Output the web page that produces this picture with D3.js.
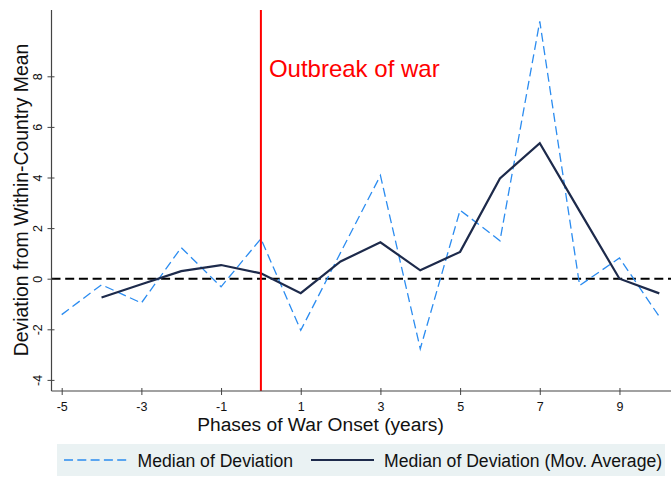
<!DOCTYPE html>
<html>
<head>
<meta charset="utf-8">
<script src="https://cdn.jsdelivr.net/npm/d3@7"></script>
<style>
  html, body { margin: 0; padding: 0; background: #fff; }
  svg { display: block; font-family: "Liberation Sans", Arial, sans-serif; }
</style>
</head>
<body>
<svg id="chart" width="671" height="477"></svg>
<script>
// ---- data ----
const years = [-5, -4, -3, -2, -1, 0, 1, 2, 3, 4, 5, 6, 7, 8, 9, 10];
const medianDev = [-1.42, -0.24, -0.96, 1.23, -0.32, 1.58, -2.04, 1.03, 4.08, -2.77, 2.71, 1.50, 10.17, -0.27, 0.82, -1.50];
const maYears = [-4, -3, -2, -1, 0, 1, 2, 3, 4, 5, 6, 7, 8, 9, 10];
const movAvg = [-0.74, -0.22, 0.30, 0.54, 0.21, -0.57, 0.68, 1.44, 0.33, 1.06, 3.96, 5.36, 2.67, 0.0, -0.58];
const xTicks = [-5, -3, -1, 1, 3, 5, 7, 9];
const yTicks = [-4, -2, 0, 2, 4, 6, 8];
const warOnset = 0;
const seriesNames = ["Median of Deviation", "Median of Deviation (Mov. Average)"];

const svg = d3.select("#chart");
const W = 671, H = 477;
svg.append("rect").attr("width", W).attr("height", H).attr("fill", "#fff");

const x = d3.scaleLinear().domain([-5, 10]).range([61.7, 659.3]);
const y = d3.scaleLinear().domain([-4, 8]).range([379.9, 76.3]);

const axisColor = "#444";
const axisLeftX = 51.5, axisTopY = 10, axisBottomY = 391;

// zero reference line
svg.append("line")
  .attr("x1", axisLeftX).attr("x2", W)
  .attr("y1", y(0)).attr("y2", y(0))
  .attr("stroke", "#000").attr("stroke-width", 2)
  .attr("stroke-dasharray", "9,4.7");

// series lines
const line = d3.line();
svg.append("path")
  .attr("d", line(years.map((d, i) => [x(d), y(medianDev[i])])))
  .attr("fill", "none").attr("stroke", "#2b8cf0").attr("stroke-width", 1.3)
  .attr("stroke-dasharray", "9,4.5");

svg.append("path")
  .attr("d", line(maYears.map((d, i) => [x(d), y(movAvg[i])])))
  .attr("fill", "none").attr("stroke", "#1d2a4b").attr("stroke-width", 2.2)
  .attr("stroke-linejoin", "miter");

// war onset line
svg.append("line")
  .attr("x1", x(warOnset)).attr("x2", x(warOnset))
  .attr("y1", axisTopY).attr("y2", axisBottomY)
  .attr("stroke", "#ff0000").attr("stroke-width", 2);
svg.append("text")
  .attr("x", x(warOnset) + 8).attr("y", 76.5)
  .attr("fill", "#ff0000").attr("font-size", 24)
  .text("Outbreak of war");

// axes
const gx = svg.append("g").attr("transform", `translate(0,${axisBottomY})`)
  .call(d3.axisBottom(x).tickValues(xTicks).tickSize(4).tickPadding(7)
    .tickFormat(d3.format("d")));
gx.select(".domain").remove();
gx.selectAll(".tick line").attr("y1", -3).attr("stroke", axisColor);
gx.selectAll(".tick text").attr("font-size", 12.5).attr("fill", "#111")
  .attr("font-family", "Liberation Sans, Arial, sans-serif")
  .text(d => d < 0 ? "-" + Math.abs(d) : d);
svg.append("line").attr("x1", axisLeftX).attr("x2", W)
  .attr("y1", axisBottomY).attr("y2", axisBottomY)
  .attr("stroke", axisColor).attr("stroke-width", 1.2);

const gy = svg.append("g").attr("transform", `translate(${axisLeftX},0)`)
  .call(d3.axisLeft(y).tickValues(yTicks).tickSize(4).tickFormat(d3.format("d")));
gy.select(".domain").remove();
gy.selectAll(".tick line").attr("x1", 3).attr("x2", -4).attr("stroke", axisColor);
gy.selectAll(".tick text")
  .attr("font-size", 12.5).attr("fill", "#111")
  .attr("font-family", "Liberation Sans, Arial, sans-serif")
  .attr("x", null).attr("dy", null)
  .attr("text-anchor", "middle")
  .attr("transform", "translate(-10,0) rotate(-90)")
  .text(d => d < 0 ? "-" + Math.abs(d) : d);
svg.append("line").attr("x1", axisLeftX).attr("x2", axisLeftX)
  .attr("y1", axisTopY).attr("y2", axisBottomY)
  .attr("stroke", axisColor).attr("stroke-width", 1.2);

// axis titles
svg.append("text")
  .attr("x", 320.5).attr("y", 431)
  .attr("text-anchor", "middle").attr("font-size", 19.2).attr("fill", "#111")
  .text("Phases of War Onset (years)");
svg.append("text")
  .attr("transform", "translate(27.5,200) rotate(-90)")
  .attr("text-anchor", "middle").attr("font-size", 19.4).attr("fill", "#111")
  .text("Deviation from Within-Country Mean");

// legend
const lg = svg.append("g");
lg.append("rect").attr("x", 57).attr("y", 444).attr("width", 608).attr("height", 32)
  .attr("fill", "#eaf2f3");
lg.append("line").attr("x1", 64).attr("x2", 127.5).attr("y1", 460).attr("y2", 460)
  .attr("stroke", "#2b8cf0").attr("stroke-width", 1.3).attr("stroke-dasharray", "9,4.3");
lg.append("text").attr("x", 137.5).attr("y", 467.3).attr("font-size", 17.6).attr("fill", "#111")
  .text(seriesNames[0]);
lg.append("line").attr("x1", 311).attr("x2", 374).attr("y1", 460).attr("y2", 460)
  .attr("stroke", "#1d2a4b").attr("stroke-width", 2.2);
lg.append("text").attr("x", 384).attr("y", 467.3).attr("font-size", 17.6).attr("fill", "#111")
  .text(seriesNames[1]);
</script>
</body>
</html>
